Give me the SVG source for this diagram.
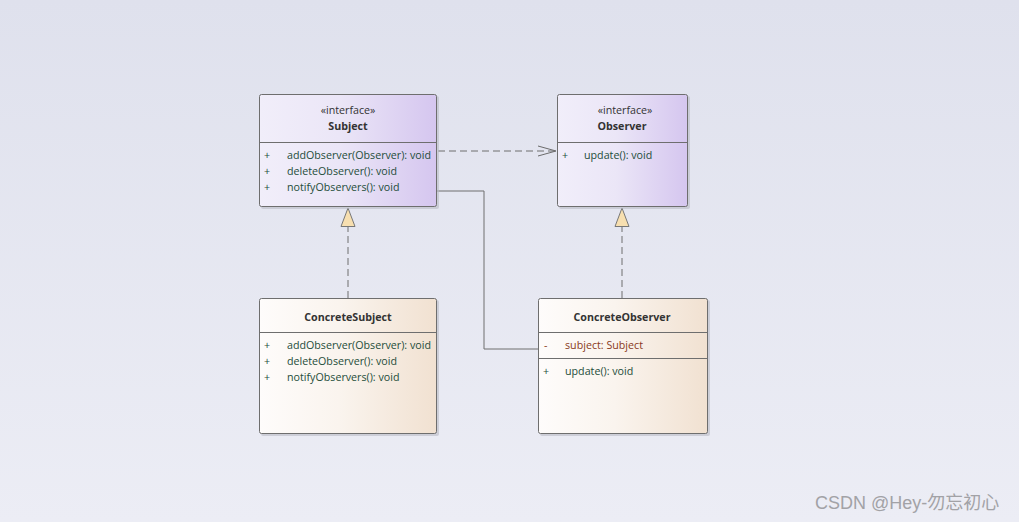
<svg xmlns="http://www.w3.org/2000/svg" width="1019" height="522" viewBox="0 0 1019 522">
<defs>
<linearGradient id="bg" x1="0" y1="0" x2="0" y2="1"><stop offset="0" stop-color="#dfe1ed"/><stop offset="1" stop-color="#ecedf5"/></linearGradient>
<linearGradient id="gi" x1="0" y1="0" x2="1" y2="0"><stop offset="0" stop-color="#f1eefa"/><stop offset="0.45" stop-color="#ebe6f7"/><stop offset="1" stop-color="#d5c6ef"/></linearGradient>
<linearGradient id="gc" x1="0" y1="0" x2="1" y2="0"><stop offset="0" stop-color="#fefcfb"/><stop offset="0.45" stop-color="#faf4ee"/><stop offset="1" stop-color="#f1e1d1"/></linearGradient>
<marker id="open" viewBox="0 0 20 12" refX="19" refY="6" markerWidth="20" markerHeight="12" markerUnits="userSpaceOnUse" orient="auto"><path d="M1,1 L19,6 L1,11" fill="none" stroke="#6b6b6b" stroke-width="1"/></marker>
<marker id="tri" viewBox="0 0 20 16" refX="19" refY="8" markerWidth="20" markerHeight="16" markerUnits="userSpaceOnUse" orient="auto"><path d="M0.5,1 L19,8 L0.5,15 Z" fill="#f7dfb0" stroke="#777" stroke-width="1"/></marker>
</defs>
<style>
.box{stroke:#6e6e6e;stroke-width:1}
.shadow{fill:#b9bbc4;opacity:0.6}
.div{stroke:#6e6e6e;stroke-width:1}
text{font-family:"Open Sans","Noto Sans","Liberation Sans",sans-serif;font-size:10.7px}
.st{fill:#333;text-anchor:middle}
.nm{fill:#333;font-weight:bold;text-anchor:middle}
.op{fill:#1e4d3a}
.at{fill:#8a3a22}
.conn{fill:none;stroke:#6e6e6e;stroke-width:1}
.dash{stroke-dasharray:7,4}
</style>
<rect width="1019" height="522" fill="url(#bg)"/>
<g id="connectors">
<path class="conn dash" d="M438,151 H556" marker-end="url(#open)"/>
<path class="conn" d="M437,191 H484 V349 H538"/>
<path class="conn dash" d="M348,298 V208" marker-end="url(#tri)"/>
<path class="conn dash" d="M622,298 V208" marker-end="url(#tri)"/>
</g>
<g id="Subject">
<rect class="shadow" x="261" y="96" width="178" height="113" rx="2"/>
<rect class="box" x="259.5" y="94.5" width="177" height="112" rx="2" fill="url(#gi)"/>
<line class="div" x1="259.5" y1="142.5" x2="436.5" y2="142.5"/>
<text class="st" x="348" y="114">«interface»</text>
<text class="nm" x="348" y="130">Subject</text>
<text class="op" x="264" y="159">+</text><text class="op" x="287" y="159">addObserver(Observer): void</text>
<text class="op" x="264" y="175">+</text><text class="op" x="287" y="175">deleteObserver(): void</text>
<text class="op" x="264" y="191">+</text><text class="op" x="287" y="191">notifyObservers(): void</text>
</g>
<g id="Observer">
<rect class="shadow" x="559" y="96" width="131" height="113" rx="2"/>
<rect class="box" x="557.5" y="94.5" width="130" height="112" rx="2" fill="url(#gi)"/>
<line class="div" x1="557.5" y1="142.5" x2="687.5" y2="142.5"/>
<text class="st" x="625" y="114">«interface»</text>
<text class="nm" x="622" y="130">Observer</text>
<text class="op" x="562" y="159">+</text><text class="op" x="584" y="159">update(): void</text>
</g>
<g id="ConcreteSubject">
<rect class="shadow" x="261" y="300" width="178" height="136" rx="2"/>
<rect class="box" x="259.5" y="298.5" width="177" height="135" rx="2" fill="url(#gc)"/>
<line class="div" x1="259.5" y1="332.5" x2="436.5" y2="332.5"/>
<text class="nm" x="348" y="321">ConcreteSubject</text>
<text class="op" x="264" y="349">+</text><text class="op" x="287" y="349">addObserver(Observer): void</text>
<text class="op" x="264" y="365">+</text><text class="op" x="287" y="365">deleteObserver(): void</text>
<text class="op" x="264" y="381">+</text><text class="op" x="287" y="381">notifyObservers(): void</text>
</g>
<g id="ConcreteObserver">
<rect class="shadow" x="540" y="300" width="170" height="136" rx="2"/>
<rect class="box" x="538.5" y="298.5" width="169" height="135" rx="2" fill="url(#gc)"/>
<line class="div" x1="538.5" y1="332.5" x2="707.5" y2="332.5"/>
<line class="div" x1="538.5" y1="358.5" x2="707.5" y2="358.5"/>
<text class="nm" x="622" y="321">ConcreteObserver</text>
<text class="at" x="544" y="349">-</text><text class="at" x="565" y="349">subject: Subject</text>
<text class="op" x="543" y="375">+</text><text class="op" x="565" y="375">update(): void</text>
</g>
<text x="815" y="509" style="font-family:'Liberation Sans','Noto Sans CJK SC',sans-serif;font-size:18px;fill:#a2a2a6">CSDN @Hey-勿忘初心</text>
</svg>
